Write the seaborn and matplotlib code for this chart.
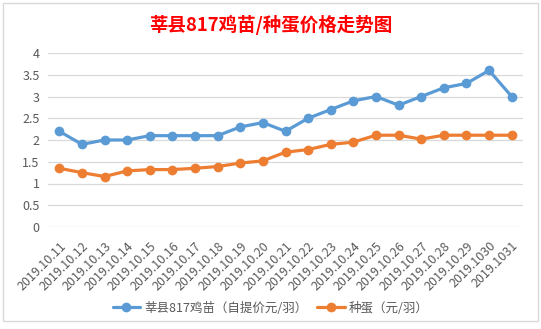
import matplotlib
matplotlib.use("Agg")
import matplotlib.pyplot as plt
import seaborn as sns
import pandas as pd
from matplotlib.patches import Rectangle

dates = ["2019.10.11", "2019.10.12", "2019.10.13", "2019.10.14", "2019.10.15",
         "2019.10.16", "2019.10.17", "2019.10.18", "2019.10.19", "2019.10.20",
         "2019.10.21", "2019.10.22", "2019.10.23", "2019.10.24", "2019.10.25",
         "2019.10.26", "2019.10.27", "2019.10.28", "2019.10.29", "2019.1030",
         "2019.1031"]
chick = [2.2, 1.9, 2.0, 2.0, 2.1, 2.1, 2.1, 2.1, 2.3, 2.4, 2.2, 2.5, 2.7, 2.9,
         3.0, 2.8, 3.0, 3.2, 3.3, 3.6, 3.0]
egg = [1.35, 1.25, 1.16, 1.29, 1.32, 1.32, 1.35, 1.39, 1.47, 1.52, 1.72, 1.78,
       1.9, 1.95, 2.11, 2.11, 2.02, 2.11, 2.11, 2.11, 2.11]
series_names = ["莘县817鸡苗（自提价元/羽）", "种蛋（元/羽）"]
title = "莘县817鸡苗/种蛋价格走势图"
yticks = [0, 0.5, 1, 1.5, 2, 2.5, 3, 3.5, 4]
ytick_labels = ["0", "0.5", "1", "1.5", "2", "2.5", "3", "3.5", "4"]

df = pd.DataFrame({
    "date": dates * 2,
    "value": chick + egg,
    "series": [series_names[0]] * len(dates) + [series_names[1]] * len(dates),
})

sns.set_theme(style="white")
plt.rcParams["font.family"] = ["Noto Sans CJK SC", "DejaVu Sans"]

fig = plt.figure(figsize=(5.41, 3.29), dpi=100)
ax = fig.add_axes([48 / 541, 1 - 227 / 329, (523 - 48) / 541, (227 - 53) / 329])

palette = {series_names[0]: "#5B9BD5", series_names[1]: "#ED7D31"}
sns.lineplot(data=df, x="date", y="value", hue="series", palette=palette,
             marker="o", markersize=7, markeredgewidth=0, linewidth=2.3,
             sort=False, ax=ax, legend=True)

ax.set_xlim(-0.5, len(dates) - 0.5)
ax.set_ylim(0, 4)
ax.set_yticks(yticks)
ax.set_yticklabels(ytick_labels)
ax.yaxis.grid(True, color="#D9D9D9", linewidth=0.9)
ax.xaxis.grid(False)
for s in ax.spines.values():
    s.set_visible(False)
ax.set_xlabel("")
ax.set_ylabel("")
ax.tick_params(axis="both", length=0, colors="#595959", labelsize=9)
ax.tick_params(axis="y", pad=6)
ax.tick_params(axis="x", pad=9)
for lab in ax.get_xticklabels():
    lab.set_rotation(45)
    lab.set_ha("right")
    lab.set_rotation_mode("anchor")
    lab.set_fontsize(9)

leg = ax.legend(loc="center", bbox_to_anchor=(0.5, (329 - 308) / 329),
                bbox_transform=fig.transFigure, ncol=2, frameon=False,
                fontsize=9, handlelength=2.2, columnspacing=0.8,
                handletextpad=0.3, labelcolor="#595959")

fig.text(0.5, 1 - 25 / 329, title, ha="center", va="center", color="#FF0000",
         fontsize=13.3, fontweight="bold")

fig.patches.append(Rectangle((3 / 541, 1 - 321 / 329), 535 / 541, 318 / 329,
                             transform=fig.transFigure, fill=False,
                             edgecolor="#D9D9D9", linewidth=1))

fig.savefig("out.png", dpi=100)
